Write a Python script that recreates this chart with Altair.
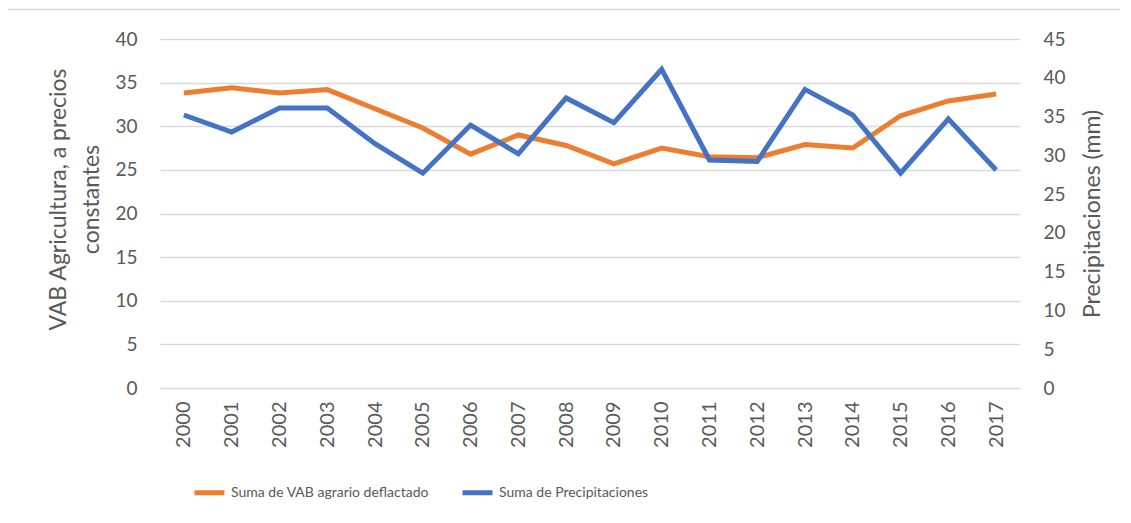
import altair as alt
import pandas as pd

years = [str(y) for y in range(2000, 2018)]
vab = [33.8, 34.4, 33.8, 34.2, 32.0, 29.8, 26.8, 29.0, 27.8, 25.7,
       27.5, 26.5, 26.4, 27.9, 27.5, 31.2, 32.9, 33.7]
precip = [35.2, 33.0, 36.1, 36.1, 31.5, 27.7, 33.9, 30.2, 37.4, 34.2,
          41.1, 29.4, 29.2, 38.5, 35.2, 27.7, 34.7, 28.1]
series_names = ["Suma de VAB agrario deflactado", "Suma de Precipitaciones"]
colors = ["#ED7D31", "#4472C4"]
left_ticks = list(range(0, 41, 5))
right_ticks = list(range(0, 46, 5))
left_title = ["VAB Agricultura, a precios", "constantes"]
right_title = "Precipitaciones (mm)"

df = pd.DataFrame({
    "Año": years + years,
    "serie": [series_names[0]] * len(years) + [series_names[1]] * len(years),
    "valor": vab + precip,
})

TXT = "#595959"
GRID = "#D9D9D9"

color = alt.Color(
    "serie:N",
    scale=alt.Scale(domain=series_names, range=colors),
    legend=alt.Legend(
        title=None, orient="none", direction="horizontal",
        legendX=32, legendY=436,
        symbolType="stroke", symbolSize=900, symbolStrokeWidth=5,
        labelFont="Lato", labelFontSize=14, labelColor=TXT,
        labelOffset=4, columnPadding=23, labelLimit=400,
    ),
)

x = alt.X(
    "Año:O",
    scale=alt.Scale(type="point", padding=0.5),
    axis=alt.Axis(title=None, labelAngle=270, labelFontSize=20, labelColor=TXT,
                  labelPadding=13, ticks=False, domain=False, grid=False),
)

base = alt.Chart(df).encode(x=x, color=color)

left = base.transform_filter(alt.datum.serie == series_names[0]).mark_line(
    strokeWidth=5
).encode(
    y=alt.Y("valor:Q", scale=alt.Scale(domain=[0, 40], nice=False),
            axis=alt.Axis(values=left_ticks, title=left_title, titleFontSize=23,
                          titleFontWeight="normal", titleColor=TXT, titlePadding=11,
                          titleLineHeight=33, titleY=160,
                          labelFontSize=19, labelColor=TXT, labelPadding=23,
                          ticks=False, domain=False, grid=True, gridColor=GRID,
                          gridWidth=1.3)),
)

right = base.transform_filter(alt.datum.serie == series_names[1]).mark_line(
    strokeWidth=5
).encode(
    y=alt.Y("valor:Q", scale=alt.Scale(domain=[0, 45], nice=False),
            axis=alt.Axis(orient="right", values=right_ticks, title=right_title,
                          titleAngle=270, titleBaseline="top", titleFontSize=23,
                          titleFontWeight="normal",
                          titleColor=TXT, titlePadding=16,
                          labelFontSize=19, labelColor=TXT, labelPadding=23,
                          ticks=False, domain=False, grid=False)),
)

frame = alt.Chart(pd.DataFrame({"k": [0]})).mark_rect(
    fill=None, stroke=GRID, strokeWidth=1.5
).encode(x=alt.value(-153), y=alt.value(-29.5), x2=alt.value(1200), y2=alt.value(700))

chart = alt.layer(frame, left, right).resolve_scale(y="independent").properties(
    width=860, height=349,
    autosize=alt.AutoSizeParams(type="none"),
    padding={"left": 152, "top": 31, "right": 100, "bottom": 127},
).configure(font="Lato").configure_view(stroke=None)

chart.save("out.html", embed_options={"renderer": "svg", "actions": False})
